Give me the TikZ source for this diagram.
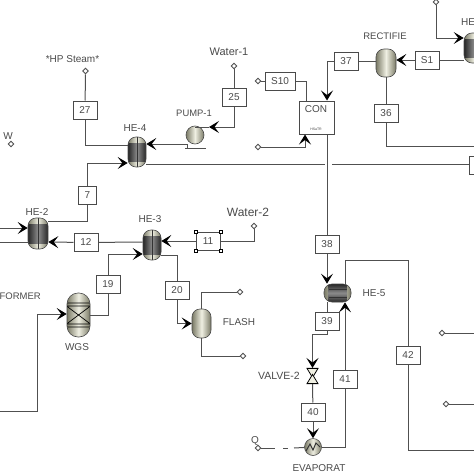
\documentclass[tikz,border=0pt]{standalone}
\usepackage{fontspec}
\setmainfont{Liberation Sans}
\usetikzlibrary{arrows.meta,shapes.geometric}
\definecolor{ink}{HTML}{4A4A4A}
\definecolor{pipe}{HTML}{505050}
\definecolor{shellside}{HTML}{7A7A66}
\definecolor{shellmid}{HTML}{EFEFE2}
\tikzset{
  flow/.style={draw=pipe, line width=1pt},
  feed/.style={flow, -{Stealth[length=10pt,width=12pt,inset=4.5pt,black]}},
  tag/.style={text=ink, font=\fontsize{10}{12}\selectfont, inner sep=0pt},
  stream/.style={draw=ink, line width=1pt, fill=white, text=ink, minimum width=24pt, minimum height=18pt, inner sep=0pt, font=\fontsize{10}{12}\selectfont},
  outlet/.style={diamond, draw=pipe, line width=.9pt, fill=white, minimum size=6pt, inner sep=0pt},
  handle/.style={rectangle, draw=black, line width=.7pt, fill=white, minimum size=3pt, inner sep=0pt},
  vessel/.style={draw=ink, line width=.6pt, left color=shellside, right color=shellside, middle color=shellmid, inner sep=0pt, rounded corners=8pt},
  valvepart/.style={isosceles triangle, isosceles triangle apex angle=62, draw=black, line width=.8pt, fill=shellmid, inner sep=0pt, minimum height=9pt, minimum width=11pt},
  hex/.style={vessel, minimum width=18pt, minimum height=30pt, path picture={
    \shade[sharp corners, left color=black!85, right color=black!85, middle color=black!45]
      ([yshift=6pt]path picture bounding box.south west) rectangle ([yshift=-6pt]path picture bounding box.north east);
    \draw[sharp corners, black!80, line width=.5pt] (path picture bounding box.south) -- (path picture bounding box.north);}},
}
\begin{document}
\begin{tikzpicture}[x=1pt,y=-1pt]
    \clip (0,0) rectangle (474,474);

    % stream blocks
    \node[stream] (b27) at (85,110) {27};
    \node[stream] (b25) at (234,97) {25};
    \node[stream, minimum width=18pt] (b7) at (87.5,195) {7};
    \node[stream] (b12) at (86,242.5) {12};
    \node[stream] (b11) at (208,241) {11};
    \node[stream] (b19) at (108,284) {19};
    \node[stream] (b20) at (177,290) {20};
    \node[stream, minimum width=30pt] (s10) at (280,81) {S10};
    \node[stream] (b37) at (346,61) {37};
    \node[stream] (s1) at (427,60) {S1};
    \node[stream] (b36) at (386,113) {36};
    \node[stream] (b38) at (327,244) {38};
    \node[stream] (b39) at (327,321) {39};
    \node[stream] (b40) at (313,412) {40};
    \node[stream] (b41) at (345,379) {41};
    \node[stream] (b42) at (408,355) {42};
    \node[stream] (bedge) at (481,165) {};
    \foreach \a in {north west,north east,south west,south east}
        \node[handle] (h-\a) at (b11.\a) {};

    % equipment
    \node[hex] (he4) at (137,152) {};
    \node[hex, minimum height=31pt, minimum width=20pt] (he2) at (38,233.5) {};
    \node[hex] (he3) at (152,245) {};
    \node[hex, minimum width=20pt] (he6) at (474,48) {};
    \node[vessel, minimum width=20pt, minimum height=28pt] (rect) at (386,63) {};
    \node[vessel, minimum width=19pt, minimum height=29pt] (flash) at (201.5,323.5) {};
    \node[vessel, minimum width=23pt, minimum height=44pt, rounded corners=11pt, path picture={
        \draw[sharp corners, black, line width=.7pt] (-12,-12) -- (12,-12) (-12,12) -- (12,12) (-12,-9) -- (12,9) (-12,9) -- (12,-9) (-12,-9) -- (12,-9) (-12,9) -- (12,9);}] (wgs) at (78.5,315) {};
    \node[vessel, minimum width=27pt, minimum height=18pt, path picture={
        \shade[sharp corners, top color=black!85, bottom color=black!85, middle color=black!45] (-9,-9) rectangle (9,9);
        \draw[sharp corners, black!80, line width=.5pt] (-9,-4) -- (9,-4) (-9,4) -- (9,4);}] (he5) at (337.5,293) {};
    \node[circle, vessel, minimum size=17pt, path picture={
        \draw[sharp corners, black!80, line width=1pt] (-7,4) -- (-3,-3) -- (0,3) -- (3,-4) -- (7,0);}] (evap) at (313,447) {};
    \node[circle, vessel, minimum size=18pt] (pump) at (195,135) {};
    \node[rectangle, draw=ink, line width=1pt, fill=white, minimum width=35pt, minimum height=33pt, inner sep=0pt] (con) at (316.5,117.5) {};
    \node[valvepart, shape border rotate=-90] (vup) at (312.5,371.5) {};
    \node[valvepart, shape border rotate=90] (vlo) at (312.5,380.5) {};

    % outlets
    \node[outlet] (osteam) at (85.5,71) {};
    \node[outlet] (owater1) at (234,66) {};
    \node[outlet] (ow) at (11,144) {};
    \node[outlet] (owater2) at (254,226) {};
    \node[outlet] (os10) at (258,81) {};
    \node[outlet] (ocon) at (258,147) {};
    \node[outlet] (oflash1) at (240,292) {};
    \node[outlet] (oflash2) at (243,356) {};
    \node[outlet] (oq) at (258,448) {};
    \node[outlet] (oa) at (442,333) {};
    \node[outlet] (ob) at (446,404) {};
    \node[outlet] (otop) at (436,2) {};

    % free ends at the border and at the crossing
    \coordinate (gapl) at (325,164);
    \coordinate (gapr) at (332,164);
    \coordinate (ein) at (0,228);
    \coordinate (eout) at (0,242);
    \coordinate (eref) at (0,411);
    \coordinate (e36) at (474,146);
    \coordinate (e42) at (474,450);
    \coordinate (ea) at (474,333);
    \coordinate (eb) at (474,404);
    \coordinate (qa) at (275,448);
    \coordinate (qb) at (283,448);
    \coordinate (qc) at (288,448);
    \coordinate (qd) at (294,448);
    \coordinate (pnoz) at (209,127);
    \coordinate (pbase) at (187,144);
    \coordinate (bl) at (185,148);
    \coordinate (br) at (206,148);
    \coordinate (wgsin) at (37,314);
    \coordinate (val) at (312.5,334);
    \coordinate (b42top) at (408,260);

    % streams
    \draw[flow] (b27) -- (osteam);
    \draw[flow] (b27) |- ([yshift=6.5pt]he4.west);
    \draw[flow] (b7) |- ([yshift=12.5pt]he2.east);
    \draw[feed] (b7) |- ([yshift=-11pt]he4.west);
    \draw[feed] (pbase) -- (he4.east |- pbase);
    \draw[flow] (pump.north |- pnoz) -- (pnoz);
    \draw[feed] (b25) |- (pnoz);
    \draw[flow] (b25) -- (owater1);
    \draw[flow] ([yshift=-12pt]he4.east) -- (gapl);
    \draw[flow] (gapr) -- (bedge.west |- gapr);
    \draw[feed] (ein) -- ([yshift=5.5pt]he2.west);
    \draw[flow] (eout) -- ([yshift=-8.5pt]he2.west);
    \draw[feed] (b12) -- ([yshift=-8.5pt]he2.east);
    \draw[flow] (b12) -- ([yshift=3pt]he3.west);
    \draw[feed] (b11) -- ([yshift=4pt]he3.east);
    \draw[flow] (b11) -| (owater2);
    \draw[feed] (b19) |- ([yshift=-9pt]he3.west);
    \draw[flow] (b19) |- (wgs.east);
    \draw[feed] (eref) -| (wgsin) -- (wgsin -| wgs.west);
    \draw[flow] ([yshift=-10pt]he3.east) -| (b20);
    \draw[feed] (b20) |- (flash.west);
    \draw[flow] (flash.north) |- (oflash1);
    \draw[flow] (flash.south) |- (oflash2);
    \draw[flow] (s10) -- (os10);
    \draw[flow] (s10) -| ([xshift=-10pt]con.north);
    \draw[feed] (b37) -| ([xshift=10.5pt]con.north);
    \draw[flow] (b37) -- (rect.west |- b37);
    \draw[feed] (ocon) -| ([xshift=-11.5pt]con.south);
    \draw[feed] (s1) -- (rect.east |- s1);
    \draw[flow] (s1) -- ([yshift=-12pt]he6.west);
    \draw[feed] (otop) |- ([yshift=10pt]he6.west);
    \draw[flow] (rect) -- (b36);
    \draw[flow] (b36) |- (e36);
    \draw[flow] ([xshift=10.5pt]con.south) -- (b38);
    \draw[feed] (b38) -- (b38 |- he5.north);
    \draw[flow] (b39 |- he5.south) -- (b39);
    \draw[feed] (b39.south) |- (val) -- (val |- vup.north);
    \draw[flow] (vlo.south) -- (b40);
    \draw[feed] (b40) -- (evap);
    \draw[flow] (evap) -| (b41);
    \draw[feed] (b41) -- (b41 |- he5.south);
    \draw[flow] (b41 |- he5.north) |- (b42top) -- (b42);
    \draw[flow] (b42) |- (e42);
    \draw[flow] (oa) -- (ea);
    \draw[flow] (ob) -- (eb);
    \draw[flow] (oq) -- (qa);
    \draw[flow] (qb) -- (qc);
    \draw[flow] (qd) -- (evap);

    % pump base
    \draw[flow] (bl) -- (br);
    \draw[flow] (pbase) -- (pbase |- bl);

    % labels
    \node[tag] (lsteam) at (72.5,59) {*HP Steam*};
    \node[tag] (lhe4) at (135,128) {HE-4};
    \node[tag, font=\fontsize{9.4}{12}\selectfont] (lpump) at (194,113) {PUMP-1};
    \node[tag, font=\fontsize{11}{13}\selectfont] (lwater1) at (229,52) {Water-1};
    \node[tag] (lw) at (8,136) {W};
    \node[tag] (lhe2) at (37,212) {HE-2};
    \node[tag] (lhe3) at (150,219) {HE-3};
    \node[tag, font=\fontsize{12}{14}\selectfont] (lwater2) at (248,212) {Water-2};
    \node[tag, font=\fontsize{9.5}{11}\selectfont, anchor=east] (lformer) at (41,296) {FORMER};
    \node[tag] (lwgs) at (77,347) {WGS};
    \node[tag] (lflash) at (239,322) {FLASH};
    \node[tag, font=\fontsize{9.5}{11}\selectfont] (lrect) at (385,36) {RECTIFIE};
    \node[tag] (lhe) at (468,22) {HE};
    \node[tag] (lcon) at (316,109) {CON};
    \node[tag, font=\fontsize{3.5}{4}\selectfont] (lheat) at (316,129) {HSaTR};
    \node[tag] (lhe5) at (374,293) {HE-5};
    \node[tag, font=\fontsize{10.5}{12}\selectfont] (lvalve) at (279,376) {VALVE-2};
    \node[tag] (levap) at (319,468) {EVAPORAT};
    \node[tag] (lq) at (255,441) {Q};
\end{tikzpicture}
\end{document}
